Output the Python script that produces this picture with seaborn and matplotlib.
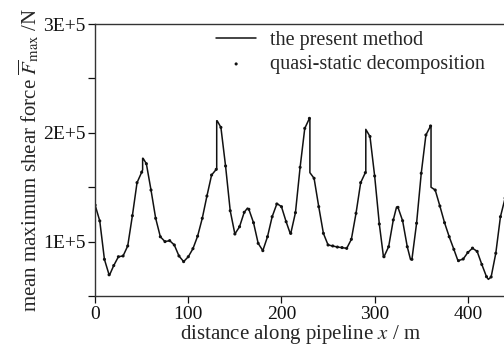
import pandas as pd
import matplotlib.pyplot as plt
import matplotlib.ticker as mticker
import seaborn as sns

# quasi-static decomposition points (every 5 m)
distance = list(range(0, 445, 5))
shear_force = [
    133600, 119000, 83700, 69500, 78000, 86100, 86800, 96000, 123800, 154200,
    163800, 171600, 147400, 121400, 104500, 100000, 100900, 96900, 86800, 81600,
    86100, 93500, 105000, 121400, 141900, 161200, 166400, 205000, 169500, 128400,
    107000, 113700, 126900, 129700, 117400, 98400, 91700, 104500, 122900, 134600,
    132100, 118300, 107600, 126600, 168300, 204100, 213300, 158200, 132100, 107600,
    96900, 96000, 95000, 94500, 93800, 102100, 126000, 154200, 163400, 196600,
    160300, 116200, 86100, 95300, 119900, 131500, 119200, 95300, 83700, 116900,
    162800, 198000, 206300, 147400, 132700, 117400, 104500, 92900, 82500, 84000,
    90000, 94000, 91000, 79000, 67800, 67500, 89300, 122900, 140000,
]

# extra points of the present method curve: peaks/troughs between dots
peak_x = [15.5, 51.5, 131.0, 163.5, 195.5, 209.5, 309.5, 323.5, 338.5, 389.5, 422.0]
peak_y = [69300, 176600, 211100, 130800, 134800, 107200, 85800, 131800, 83500, 82200, 65300]

# jumps of the present method curve
jump_x = [51.0, 130.5, 230.5, 290.5, 360.5]
jump_before = [166000, 167000, 213300, 164000, 206300]
jump_after = [176600, 211100, 163400, 203200, 150000]

dots = pd.DataFrame({'x': distance, 'F': shear_force})

line = pd.concat([
    pd.DataFrame({'x': distance, 'F': shear_force, 'seq': 0.5}),
    pd.DataFrame({'x': peak_x, 'F': peak_y, 'seq': 0.5}),
    pd.DataFrame({'x': jump_x, 'F': jump_before, 'seq': 0}),
    pd.DataFrame({'x': jump_x, 'F': jump_after, 'seq': 1}),
]).sort_values(['x', 'seq']).reset_index(drop=True)

sns.set_style('ticks')
plt.rcParams['font.family'] = ['Liberation Serif', 'DejaVu Serif']
plt.rcParams['mathtext.fontset'] = 'stix'

fig = plt.figure(figsize=(5.04, 3.46), dpi=100)
ax = fig.add_axes([0.1887, 0.1445, 0.8135, 0.786])

sns.lineplot(data=line, x='x', y='F', sort=False, estimator=None,
             color='#111111', lw=1.1, ax=ax, label='the present method')
sns.scatterplot(data=dots, x='x', y='F', color='#111111', s=5,
                edgecolor='none', ax=ax, label='quasi-static decomposition')

ax.set_xlim(0, 440)
ax.set_ylim(50000, 300000)
ax.set_xticks([0, 100, 200, 300, 400])
ax.set_yticks([50000, 100000, 150000, 200000, 250000, 300000])
ax.yaxis.set_major_formatter(mticker.FuncFormatter(
    lambda v, p: '%dE+5' % round(v / 1e5) if v % 100000 == 0 else ''))
ax.tick_params(direction='out', length=5, width=0.9, labelsize=14,
               colors='#111111', pad=2)
for s in ax.spines.values():
    s.set_color('#333333')
    s.set_linewidth(1.0)

ax.set_xlabel('distance along pipeline $x$ / m', fontsize=15, labelpad=0)
ax.set_ylabel(r'mean maximum shear force $\overline{F}_{\rm max}$ /N',
              fontsize=15, labelpad=1)

ax.legend(loc='upper left', bbox_to_anchor=(216 / 504, 1 - 31 / 346),
          bbox_transform=fig.transFigure, frameon=False, fontsize=14.5,
          handlelength=2.0, handletextpad=0.7, labelspacing=0.25,
          borderpad=0, borderaxespad=0, markerscale=1.0)

fig.savefig('out.png', dpi=100)
